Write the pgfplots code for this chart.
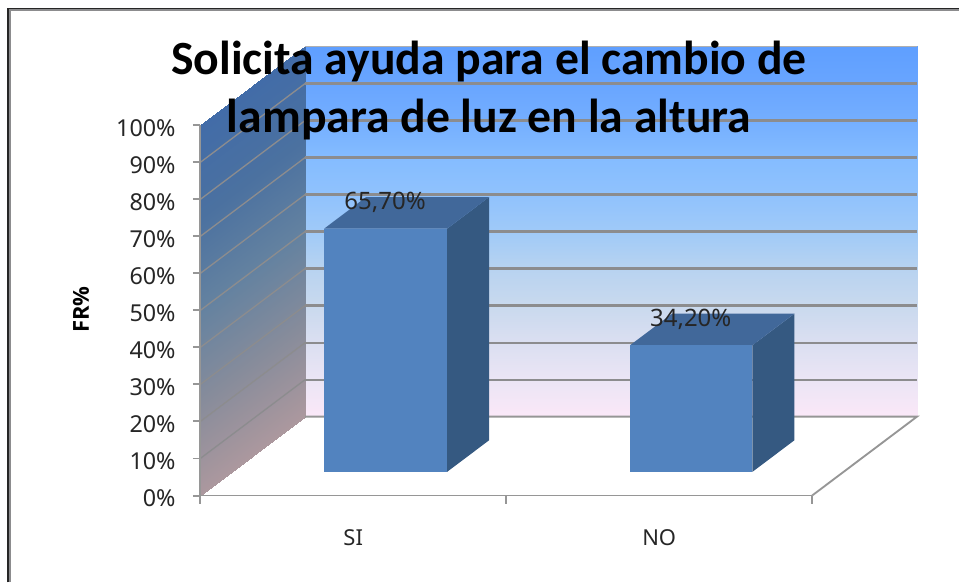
\documentclass[border=0pt]{standalone}
\usepackage{pgfplots}
\pgfplotsset{compat=1.18}
\usepackage{fontspec}
\setmainfont{Noto Sans}
\newfontfamily\titlefont{Carlito}
\newfontfamily\labelfont{Open Sans}
\definecolor{gridgray}{RGB}{140,140,142}
\definecolor{axisgray}{RGB}{150,150,150}
\definecolor{barfront}{RGB}{82,131,191}
\definecolor{bartop}{RGB}{65,104,154}
\definecolor{barside}{RGB}{53,89,129}
\pgfplotsset{
  colormap={backwall}{
    rgb255(0cm)=(251,232,248); rgb255(10cm)=(235,229,245); rgb255(20cm)=(219,223,241);
    rgb255(30cm)=(201,217,238); rgb255(40cm)=(184,211,240); rgb255(50cm)=(160,202,248);
    rgb255(60cm)=(144,194,253); rgb255(70cm)=(132,188,255); rgb255(80cm)=(116,174,255);
    rgb255(90cm)=(104,165,255); rgb255(100cm)=(95,159,255)},
  colormap={sidewall}{
    rgb255(0cm)=(172,152,158); rgb255(25cm)=(135,140,155); rgb255(50cm)=(100,130,160);
    rgb255(75cm)=(75,113,160); rgb255(100cm)=(66,108,168)},
}
% pixel position on the sheet, expressed on the plane y=0 of the axis
\newcommand{\pix}[2]{axis cs:{(#1-200.5)/306.25},0,{(496-#2)/3.705}}
\begin{document}
\begin{tikzpicture}
\begin{axis}[
  x={(229.69pt,0pt)}, y={(78.75pt,59.25pt)}, z={(0pt,2.779pt)},
  xmin=0, xmax=2, ymin=0, ymax=1, zmin=0, zmax=100,
  clip=false,
  axis lines=left,
  axis line style={-, draw=axisgray, line width=1.4pt},
  y axis line style={draw=none},
  xtick={0,1,2}, xticklabels={}, ytick=\empty,
  extra x ticks={0.5,1.5}, extra x tick labels={SI,NO},
  extra x tick style={
    xticklabel style={font=\fontsize{16.5}{19}\selectfont, anchor=center, yshift=-32pt, text=black!85}},
  ztick={0,10,...,100},
  zticklabel={\pgfmathprintnumber[assume math mode=true]{\tick}\%},
  zticklabel style={font=\fontsize{17.5}{20}\selectfont, text=black!85, anchor=east, xshift=-15pt, yshift=-2.2pt},
  tick style={draw=none},
  major tick length=0pt,
  point meta min=0, point meta max=100,
]
% back wall and side wall
\addplot3[surf, shader=interp, colormap name=backwall] coordinates {
(0,1,0) (2,1,0)

(0,1,10) (2,1,10)

(0,1,20) (2,1,20)

(0,1,30) (2,1,30)

(0,1,40) (2,1,40)

(0,1,50) (2,1,50)

(0,1,60) (2,1,60)

(0,1,70) (2,1,70)

(0,1,80) (2,1,80)

(0,1,90) (2,1,90)

(0,1,100) (2,1,100)
};
\addplot3[surf, shader=interp, colormap name=sidewall] coordinates {
(0,0,0) (0,1,0)

(0,0,25) (0,1,25)

(0,0,50) (0,1,50)

(0,0,75) (0,1,75)

(0,0,100) (0,1,100)
};
% grid lines on the walls
\pgfplotsinvokeforeach{10,20,...,90}{
  \addplot3[draw=gridgray, line width=1pt] coordinates {(0,0,#1) (0,1,#1)};
  \addplot3[draw=gridgray, line width=1.6pt] coordinates {(0,1,#1) (2,1,#1)};
}
\addplot3[draw=gridgray!70, line width=1pt] coordinates {(0,1,100) (2,1,100)};
% floor outline and category ticks
\addplot3[draw=axisgray, line width=1.4pt] coordinates {(0,1,0) (2,1,0) (2,0,0)};
\addplot3[draw=axisgray, line width=1.4pt] coordinates {(0,0,0) (2,0,0)};
\pgfplotsinvokeforeach{0,1,2}{
  \addplot3[draw=axisgray, line width=1.4pt] coordinates {(#1,0,0) (#1,0,-2.2)};
}
% bar SI
\addplot3[fill=barside, draw=none] coordinates {(0.704,0.3,0) (0.704,0.7,0) (0.704,0.7,65.7) (0.704,0.3,65.7)} -- cycle;
\addplot3[fill=bartop, draw=none] coordinates {(0.302,0.3,65.7) (0.704,0.3,65.7) (0.704,0.7,65.7) (0.302,0.7,65.7)} -- cycle;
\addplot3[fill=barfront, draw=none] coordinates {(0.302,0.3,0) (0.704,0.3,0) (0.704,0.3,65.7) (0.302,0.3,65.7)} -- cycle;
% bar NO
\addplot3[fill=barside, draw=none] coordinates {(1.702,0.3,0) (1.702,0.7,0) (1.702,0.7,34.2) (1.702,0.3,34.2)} -- cycle;
\addplot3[fill=bartop, draw=none] coordinates {(1.302,0.3,34.2) (1.702,0.3,34.2) (1.702,0.7,34.2) (1.302,0.7,34.2)} -- cycle;
\addplot3[fill=barfront, draw=none] coordinates {(1.302,0.3,0) (1.702,0.3,0) (1.702,0.3,34.2) (1.302,0.3,34.2)} -- cycle;
% value axis line
\draw[axisgray, line width=1.5pt] (\pix{200.5}{496}) -- (\pix{200.5}{125.5});
\coordinate (tickstart) at (\pix{193}{496});
% value labels, axis label, title
\node[font=\fontsize{18}{21}\selectfont, text=black!85] at (\pix{385.5}{203}) {65,70\%};
\node[font=\fontsize{18}{21}\selectfont, text=black!85] at (\pix{691.5}{320}) {34,20\%};
\node[font=\labelfont\fontsize{16.5}{19}\selectfont\bfseries, rotate=90] at (\pix{81}{310}) {FR\%};
\node[font=\titlefont\fontsize{35.8}{43.5}\selectfont\bfseries, align=center, text=black] at (\pix{489.5}{91})
  {Solicita ayuda para el cambio de\\lampara de luz en la altura};
% outer frame of the sheet
\draw[gridgray, line width=1.5pt] (\pix{10}{583}) -- (\pix{10}{10}) -- (\pix{960}{10});
\draw[black!85, line width=0.9pt] (\pix{8}{583}) -- (\pix{8}{8.5}) -- (\pix{960}{8.5});
\path (\pix{0}{583}) rectangle (\pix{960}{0});
\end{axis}
% short tick marks of the value axis, one every ten percent
\foreach \i in {0,...,10} {
  \draw[axisgray, line width=1.5pt] ([yshift=\i*27.79pt]tickstart) -- ++(5.625pt,0pt);
}
\end{tikzpicture}
\end{document}
